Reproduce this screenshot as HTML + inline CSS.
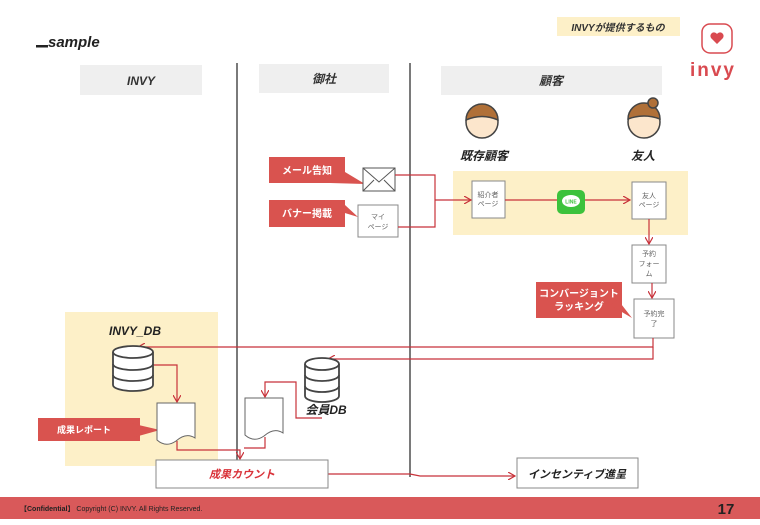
<!DOCTYPE html>
<html><head><meta charset="utf-8"><style>
body{margin:0;width:760px;height:520px;background:#fff;overflow:hidden}
text{font-family:"Liberation Sans","Noto Sans CJK JP",sans-serif}
</style></head><body>
<svg width="760" height="520" viewBox="0 0 760 520" xmlns="http://www.w3.org/2000/svg">
<defs>
<marker id="a" markerWidth="8" markerHeight="8" refX="7" refY="4" orient="auto" markerUnits="userSpaceOnUse"><path d="M0,0 L7,4 L0,8" fill="none" stroke="#c8323a" stroke-width="1.2"/></marker>
</defs>
<!-- top -->
<rect x="557" y="17" width="123" height="19" fill="#fdf0c8"/>
<text x="618" y="31" font-size="10" font-weight="bold" font-style="italic" text-anchor="middle" fill="#333">INVYが提供するもの</text>
<rect x="36" y="45" width="12" height="2.5" fill="#222"/>
<text x="48" y="47" font-size="15" font-weight="bold" font-style="italic" fill="#222">sample</text>
<rect x="702" y="24" width="30" height="29" rx="8" fill="none" stroke="#d94a50" stroke-width="1.5"/>
<path d="M717,44 l-6,-6 a3.5,3.5 0 0 1 6,-4 a3.5,3.5 0 0 1 6,4 z" fill="#d94a50"/>
<text x="713" y="76" font-size="19" fill="#d94a50" text-anchor="middle" letter-spacing="2" font-weight="bold">invy</text>
<!-- headers -->
<rect x="80" y="65" width="122" height="30" fill="#efefef"/>
<text x="141" y="85" font-size="12" font-weight="bold" font-style="italic" text-anchor="middle" fill="#333">INVY</text>
<rect x="259" y="64" width="130" height="29" fill="#efefef"/>
<text x="324" y="83" font-size="12" font-weight="bold" font-style="italic" text-anchor="middle" fill="#333">御社</text>
<rect x="441" y="66" width="221" height="29" fill="#efefef"/>
<text x="551" y="85" font-size="12" font-weight="bold" font-style="italic" text-anchor="middle" fill="#333">顧客</text>
<line x1="237" y1="63" x2="237" y2="477" stroke="#222" stroke-width="1.2"/>
<line x1="410" y1="63" x2="410" y2="477" stroke="#222" stroke-width="1.2"/>
<!-- faces -->
<g stroke="#444" stroke-width="1.5">
<circle cx="482" cy="122" r="16" fill="#fce6cc"/>
<path d="M466,120 a16,16 0 0 1 32,0 q-16,-7 -32,0z" fill="#b07038"/>
<circle cx="644" cy="122" r="16" fill="#fce6cc"/>
<path d="M628,119 a16,16 0 0 1 32,0 q-16,-6 -32,0z" fill="#b07038"/>
<circle cx="653" cy="103" r="5" fill="#b07038"/>
</g>
<text x="484" y="160" font-size="12" font-weight="bold" font-style="italic" text-anchor="middle" fill="#222">既存顧客</text>
<text x="643" y="160" font-size="12" font-weight="bold" font-style="italic" text-anchor="middle" fill="#222">友人</text>
<!-- yellow areas -->
<rect x="453" y="171" width="235" height="64" fill="#fdf0c8"/>
<rect x="65" y="312" width="153" height="154" fill="#fdf0c8"/>
<!-- red callouts -->
<g fill="#d9534f">
<rect x="269" y="157" width="76" height="26"/><path d="M330,183 L365,184 L345,172z"/>
<rect x="269" y="200" width="76" height="27"/><path d="M335,210 L358,217 L345,205z"/>
<rect x="536" y="282" width="86" height="36"/><path d="M610,305 L632,318 L618,300z"/>
<rect x="38" y="418" width="102" height="23"/><path d="M130,423 L160,430 L135,437z"/>
</g>
<g fill="#fff" font-size="10" font-weight="bold" text-anchor="middle">
<text x="307" y="174">メール告知</text>
<text x="307" y="217">バナー掲載</text>
<text x="579" y="297">コンバージョント</text>
<text x="579" y="310">ラッキング</text>
<text x="84" y="433" font-size="9">成果レポート</text>
</g>
<!-- envelope, boxes -->
<rect x="363" y="168" width="32" height="23" fill="#fff" stroke="#555"/>
<path d="M363,168 L379,182 L395,168 M363,191 L374,180 M395,191 L384,180" fill="none" stroke="#555"/>
<g fill="#fff" stroke="#888">
<rect x="358" y="205" width="40" height="32"/>
<rect x="472" y="181" width="33" height="37"/>
<rect x="632" y="182" width="34" height="37"/>
<rect x="632" y="245" width="34" height="38"/>
<rect x="634" y="299" width="40" height="39"/>
</g>
<g font-size="7" fill="#666" text-anchor="middle">
<text x="378" y="219">マイ</text><text x="378" y="229">ページ</text>
<text x="488" y="197">紹介者</text><text x="488" y="206">ページ</text>
<text x="649" y="198">友人</text><text x="649" y="207">ページ</text>
<text x="649" y="256">予約</text><text x="649" y="266">フォー</text><text x="649" y="276">ム</text>
<text x="654" y="316">予約完</text><text x="654" y="326">了</text>
</g>
<rect x="557" y="190" width="28" height="24" rx="5" fill="#3cc23c"/>
<ellipse cx="571" cy="201" rx="9" ry="6" fill="#fff"/>
<text x="571" y="203.5" font-size="5" fill="#3cc23c" text-anchor="middle" font-weight="bold">LINE</text>
<!-- red lines -->
<g fill="none" stroke="#c8323a" stroke-width="1.2">
<path d="M395,175 H435 V227 H398"/>
<path d="M435,200 H471" marker-end="url(#a)"/>
<path d="M505,200 H557"/>
<path d="M585,200 H630" marker-end="url(#a)"/>
<path d="M649,219 V244" marker-end="url(#a)"/>
<path d="M652,283 V298" marker-end="url(#a)"/>
<path d="M653,338 V347 H138" marker-end="url(#a)"/>
<path d="M653,347 V359 H328" marker-end="url(#a)"/>
<path d="M153,365 H177 V402" marker-end="url(#a)"/>
<path d="M322,418 H296 V382 H265 V397" marker-end="url(#a)"/>
<path d="M177,441 V450 H240 V459" marker-end="url(#a)"/>
<path d="M265,437 V448 H244"/>
<path d="M328,474 H410 L420,476 H515" marker-end="url(#a)"/>
</g>
<!-- DB cylinders -->
<g fill="#fff" stroke="#444" stroke-width="1.8">
<path d="M113,352 V385 a20,6 0 0 0 40,0 V352"/>
<ellipse cx="133" cy="352" rx="20" ry="6"/>
<path d="M113,364 a20,6 0 0 0 40,0 M113,375 a20,6 0 0 0 40,0" fill="none"/>
<path d="M305,364 V396 a17,6 0 0 0 34,0 V364"/>
<ellipse cx="322" cy="364" rx="17" ry="6"/>
<path d="M305,375 a17,6 0 0 0 34,0 M305,386 a17,6 0 0 0 34,0" fill="none"/>
</g>
<text x="135" y="335" font-size="12" font-weight="bold" font-style="italic" text-anchor="middle" fill="#222">INVY_DB</text>
<text x="326" y="414" font-size="12" font-weight="bold" font-style="italic" text-anchor="middle" fill="#222">会員DB</text>
<!-- documents -->
<g fill="#fff" stroke="#666">
<path d="M157,403 H195 V438 Q186,432 176,441 Q166,448 157,440z"/>
<path d="M245,398 H283 V433 Q274,427 264,436 Q254,443 245,435z"/>
</g>
<!-- bottom boxes -->
<rect x="156" y="460" width="172" height="28" fill="#fff" stroke="#888"/>
<text x="242" y="478" font-size="11" font-weight="bold" font-style="italic" text-anchor="middle" fill="#d9333a">成果カウント</text>
<rect x="517" y="458" width="121" height="30" fill="#fff" stroke="#888"/>
<text x="577" y="478" font-size="11" font-weight="bold" font-style="italic" text-anchor="middle" fill="#222">インセンティブ進呈</text>
<!-- footer -->
<rect x="0" y="497" width="760" height="22" fill="#d9595a"/>
<text x="20" y="511" font-size="7" fill="#222"><tspan font-weight="bold">【Confidential】</tspan> Copyright (C) INVY. All Rights Reserved.</text>
<text x="726" y="514" font-size="15" font-weight="bold" fill="#222" text-anchor="middle">17</text>
</svg>
</body></html>
